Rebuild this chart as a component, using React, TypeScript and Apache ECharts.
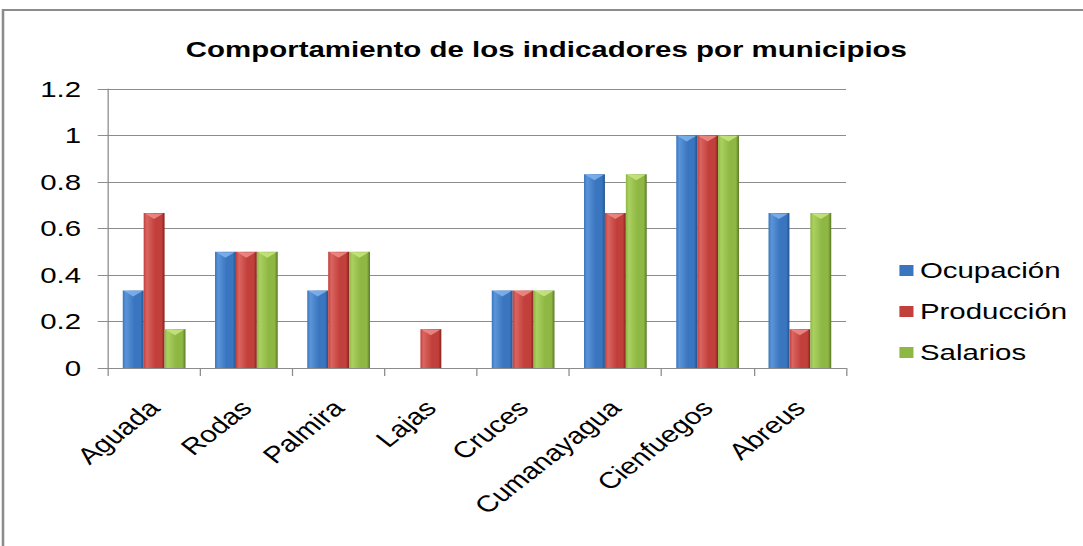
import React, { useEffect, useRef } from "react";
import * as echarts from "echarts";

const categories = ["Aguada", "Rodas", "Palmira", "Lajas", "Cruces", "Cumanayagua", "Cienfuegos", "Abreus"];
const ocupacion = [0.333, 0.5, 0.333, 0, 0.333, 0.833, 1, 0.667];
const produccion = [0.667, 0.5, 0.5, 0.167, 0.333, 0.667, 1, 0.167];
const salarios = [0.167, 0.5, 0.5, 0, 0.333, 0.833, 1, 0.667];
const seriesNames = ["Ocupación", "Producción", "Salarios"];

// The reference is horizontally stretched; draw at a narrower width and stretch.
const PAGE_W = 1083;
const PAGE_H = 546;
const W0 = 846;
const SX = PAGE_W / W0;
const GAP = 0.32;

function grad(dark: string, base: string, light: string) {
  return new echarts.graphic.LinearGradient(0, 0, 1, 0, [
    { offset: 0, color: base },
    { offset: 0.15, color: light },
    { offset: 0.55, color: base },
    { offset: 0.85, color: base },
    { offset: 1, color: dark },
  ]);
}

export default function App() {
  const ref = useRef<HTMLDivElement>(null);
  useEffect(() => {
    if (!ref.current) return;
    const chart = echarts.init(ref.current, undefined, { renderer: "svg" });
    const font = "'Liberation Sans', Arial, sans-serif";
    const colors = [
      grad("#23528c", "#3a76bf", "#5b94d8"),
      grad("#86221f", "#c2403b", "#da6561"),
      grad("#5b7828", "#8fb744", "#aad160"),
    ];
    const bevel = ["#7fb0ea", "#ec8a86", "#c6e37e"];
    const legendColors = ["#3a76bf", "#c2403b", "#8fb744"];
    const data = [ocupacion, produccion, salarios];

    const bevelSeries = seriesNames.map((name, si) => ({
      type: "custom",
      name: name + "-bevel",
      silent: true,
      z: 3,
      data: data[si].map((v, ci) => [ci, v]),
      renderItem: (params: any, api: any) => {
        const v = api.value(1);
        if (!v) return null;
        const p = api.coord([api.value(0), v]);
        const cw = api.size([1, 0])[0];
        const bw = (cw * (1 - GAP)) / 3;
        const xc = p[0] + (si - 1) * bw;
        const x0 = xc - bw / 2 + 1;
        const x1 = xc + bw / 2 - 1;
        return {
          type: "polygon",
          shape: { points: [[x0, p[1] + 0.5], [x1, p[1] + 0.5], [xc, p[1] + 6]] },
          style: { fill: bevel[si], opacity: 0.9 },
        };
      },
    }));

    chart.setOption({
      animation: false,
      backgroundColor: "#ffffff",
      textStyle: { fontFamily: font },
      title: {
        text: "Comportamiento de los indicadores por municipios",
        left: 540 / SX,
        textAlign: "center",
        top: 33,
        textStyle: { fontSize: 23, fontWeight: "bold", color: "#000", fontFamily: font },
      },
      graphic: [
        {
          type: "rect",
          shape: { x: 3 / SX, y: 10, width: 1000, height: 700 },
          style: { fill: "none", stroke: "#8c8c8c", lineWidth: 2 },
          silent: true,
          z: -1,
        },
      ],
      legend: {
        orient: "vertical",
        left: 893 / SX,
        top: 254,
        itemWidth: 11,
        itemHeight: 11,
        itemGap: 18,
        icon: "rect",
        textStyle: { fontSize: 23, color: "#000", fontFamily: font },
        data: seriesNames.map((n, i) => ({ name: n, itemStyle: { color: legendColors[i] } })),
      },
      grid: { left: 108 / SX, right: W0 - 846 / SX, top: 89, bottom: PAGE_H - 368 },
      xAxis: {
        type: "category",
        data: categories,
        axisLine: { lineStyle: { color: "#8c8c8c", width: 1 } },
        axisTick: { show: true, length: 8, lineStyle: { color: "#8c8c8c" } },
        axisLabel: { rotate: 45, fontSize: 23, color: "#000", margin: 36, fontFamily: font },
      },
      yAxis: {
        type: "value",
        min: 0,
        max: 1.2,
        interval: 0.2,
        axisLine: { show: true, lineStyle: { color: "#8c8c8c", width: 1 } },
        axisTick: { show: true, length: 8, lineStyle: { color: "#8c8c8c" } },
        splitLine: { lineStyle: { color: "#8c8c8c", width: 1 } },
        axisLabel: {
          fontSize: 23,
          color: "#000",
          margin: 21,
          fontFamily: font,
          formatter: (v: number) => String(+v.toFixed(1)),
        },
      },
      series: [
        ...seriesNames.map((name, i) => ({
          name,
          type: "bar",
          data: data[i],
          barGap: "0%",
          barCategoryGap: GAP * 100 + "%",
          itemStyle: { color: colors[i], borderWidth: 0 },
        })),
        ...bevelSeries,
      ],
    });
    return () => chart.dispose();
  }, []);
  return (
    <div
      ref={ref}
      style={{
        position: "fixed",
        left: 0,
        top: 0,
        width: W0,
        height: PAGE_H,
        transform: `scaleX(${SX})`,
        transformOrigin: "0 0",
      }}
    />
  );
}
